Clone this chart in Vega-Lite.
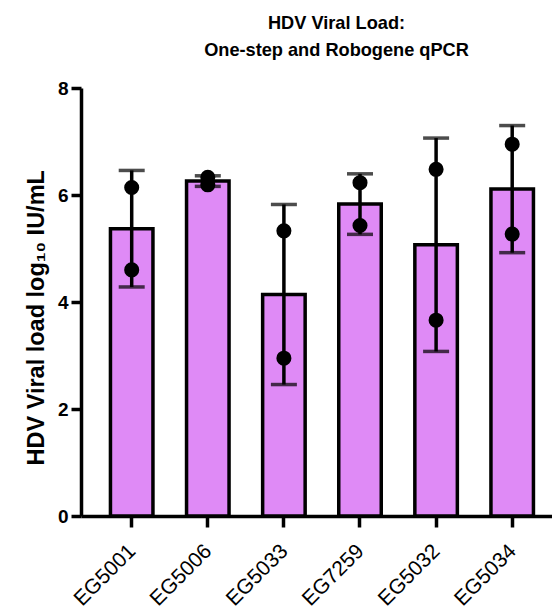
{
  "$schema": "https://vega.github.io/schema/vega-lite/v6.json",
  "width": 471,
  "height": 428,
  "autosize": {"type": "none"},
  "padding": {"left": 81, "top": 88, "right": 0, "bottom": 96},
  "background": "white",
  "title": {
    "text": ["HDV Viral Load:", "One-step and Robogene qPCR"],
    "font": "Liberation Sans",
    "fontSize": 18.2,
    "fontWeight": "bold",
    "color": "black",
    "anchor": "middle",
    "dx": 20,
    "lineHeight": 26.5,
    "baseline": "bottom",
    "offset": 1
  },
  "data": {
    "values": [
      {"sample": "EG5001", "value": 6.14},
      {"sample": "EG5001", "value": 4.60},
      {"sample": "EG5006", "value": 6.19},
      {"sample": "EG5006", "value": 6.33},
      {"sample": "EG5033", "value": 5.33},
      {"sample": "EG5033", "value": 2.95},
      {"sample": "EG7259", "value": 6.23},
      {"sample": "EG7259", "value": 5.43},
      {"sample": "EG5032", "value": 6.48},
      {"sample": "EG5032", "value": 3.66},
      {"sample": "EG5034", "value": 6.95},
      {"sample": "EG5034", "value": 5.27}
    ]
  },
  "encoding": {
    "x": {
      "field": "sample",
      "type": "nominal",
      "sort": ["EG5001", "EG5006", "EG5033", "EG7259", "EG5032", "EG5034"],
      "scale": {"paddingInner": 0.4415, "paddingOuter": 0.3154, "align": 0.6135},
      "axis": {
        "title": null,
        "domainColor": "black",
        "domainWidth": 3.5,
        "tickColor": "black",
        "tickWidth": 3.5,
        "tickSize": 11,
        "labelAngle": -45,
        "labelAlign": "right",
        "labelBaseline": "alphabetic",
        "labelFont": "Liberation Sans",
        "labelFontSize": 21,
        "labelColor": "black",
        "labelPadding": 25,
        "labelOffset": 5,
        "grid": false
      }
    }
  },
  "layer": [
    {
      "mark": {"type": "bar", "fill": "#DF8AF6", "stroke": "black", "strokeWidth": 3.5},
      "encoding": {
        "y": {
          "aggregate": "mean",
          "field": "value",
          "type": "quantitative",
          "title": "HDV Viral load log₁₀ IU/mL",
          "scale": {"domain": [0, 8], "nice": false},
          "axis": {
            "values": [0, 2, 4, 6, 8],
            "grid": false,
            "domainColor": "black",
            "domainWidth": 3.5,
            "tickColor": "black",
            "tickWidth": 3.5,
            "tickSize": 10,
            "labelFont": "Liberation Sans",
            "labelFontSize": 19,
            "labelFontWeight": "bold",
            "labelColor": "black",
            "labelPadding": 3,
            "titleFont": "Liberation Sans",
            "titleFontSize": 23.5,
            "titleFontWeight": "bold",
            "titleColor": "black",
            "titleAngle": -90,
            "titleAlign": "left",
            "titleBaseline": "alphabetic",
            "titleX": -38,
            "titleY": 377
          }
        }
      }
    },
    {
      "mark": {
        "type": "errorbar",
        "extent": "stdev",
        "ticks": {"size": 26, "thickness": 3.5, "color": "black"},
        "rule": {"strokeWidth": 3.5, "color": "black"}
      },
      "encoding": {
        "y": {"field": "value", "type": "quantitative", "title": "HDV Viral load log₁₀ IU/mL"}
      }
    },
    {
      "mark": {"type": "circle", "size": 227, "color": "black", "opacity": 1},
      "encoding": {
        "y": {"field": "value", "type": "quantitative", "title": "HDV Viral load log₁₀ IU/mL"}
      }
    }
  ],
  "config": {
    "view": {"stroke": null}
  }
}
